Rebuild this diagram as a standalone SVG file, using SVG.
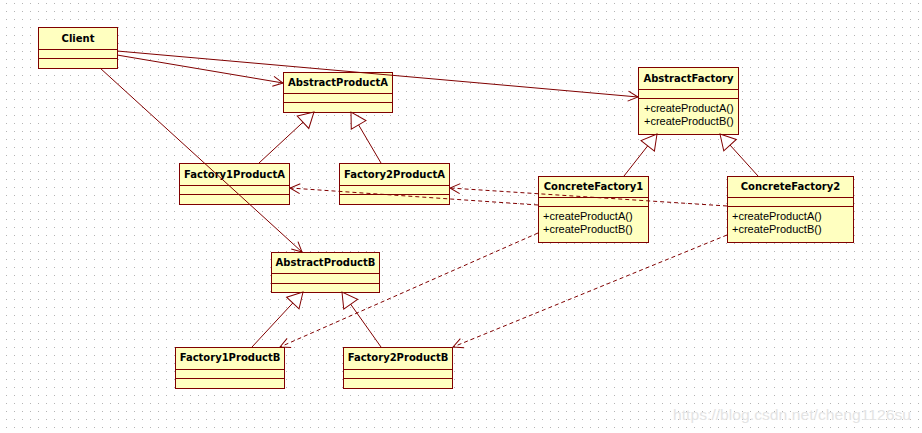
<svg xmlns="http://www.w3.org/2000/svg" width="922" height="433" viewBox="0 0 922 433">
<style>
.box{fill:#ffffc0;stroke:#800000;stroke-width:1}
.div{stroke:#800000;stroke-width:1}
.name{font-family:"DejaVu Sans",sans-serif;font-weight:bold;font-size:10px;fill:#000;text-anchor:middle}
.op{font-family:"Liberation Sans",Arial,sans-serif;font-size:11px;fill:#000}
.assoc{fill:none;stroke:#800000;stroke-width:1;marker-end:url(#open)}
.gen{fill:none;stroke:#800000;stroke-width:1;marker-end:url(#tri)}
.dep{fill:none;stroke:#800000;stroke-width:1;stroke-dasharray:4,3;marker-end:url(#open)}
</style>
<defs>
<pattern id="grid" x="6" y="3" width="8" height="8" patternUnits="userSpaceOnUse">
<rect x="0" y="0" width="1" height="1" fill="#b4b4b4"/>
</pattern>
<marker id="open" markerUnits="userSpaceOnUse" markerWidth="14" markerHeight="14" viewBox="-12 -7 14 14" refX="0" refY="0" orient="auto" overflow="visible">
<path d="M-10,-5 L0,0 L-10,5" fill="none" stroke="#800000" stroke-width="1"/>
</marker>
<marker id="tri" markerUnits="userSpaceOnUse" markerWidth="20" markerHeight="20" viewBox="-17 -10 20 20" refX="0" refY="0" orient="auto" overflow="visible">
<path d="M0,0 L-15,-8.5 L-15,8.5 Z" fill="#ffffff" stroke="#800000" stroke-width="1"/>
</marker>
</defs>
<rect width="922" height="433" fill="#ffffff"/>
<rect width="922" height="433" fill="url(#grid)"/>
<text x="673" y="420" font-family="Liberation Sans,Arial,sans-serif" font-size="15" fill="#e4e4e4" textLength="238" lengthAdjust="spacingAndGlyphs">https://blog.csdn.net/cheng1126su</text>

<g id="Client">
<rect class="box" x="38.5" y="27.5" width="79" height="41"/>
<line class="div" x1="38.5" y1="49.5" x2="117.5" y2="49.5"/>
<line class="div" x1="38.5" y1="58.5" x2="117.5" y2="58.5"/>
<text class="name" x="78" y="42">Client</text>
</g>
<g id="AbstractProductA">
<rect class="box" x="283.5" y="72.5" width="109" height="40"/>
<line class="div" x1="283.5" y1="93.5" x2="392.5" y2="93.5"/>
<line class="div" x1="283.5" y1="102.5" x2="392.5" y2="102.5"/>
<text class="name" x="338" y="86">AbstractProductA</text>
</g>
<g id="Factory1ProductA">
<rect class="box" x="179.5" y="163.5" width="110" height="41"/>
<line class="div" x1="179.5" y1="185.5" x2="289.5" y2="185.5"/>
<line class="div" x1="179.5" y1="194.5" x2="289.5" y2="194.5"/>
<text class="name" x="234.5" y="178">Factory1ProductA</text>
</g>
<g id="Factory2ProductA">
<rect class="box" x="339.5" y="163.5" width="110" height="41"/>
<line class="div" x1="339.5" y1="185.5" x2="449.5" y2="185.5"/>
<line class="div" x1="339.5" y1="194.5" x2="449.5" y2="194.5"/>
<text class="name" x="394.5" y="178">Factory2ProductA</text>
</g>
<g id="AbstractFactory">
<rect class="box" x="638.5" y="67.5" width="100" height="67"/>
<line class="div" x1="638.5" y1="89.5" x2="738.5" y2="89.5"/>
<line class="div" x1="638.5" y1="98.5" x2="738.5" y2="98.5"/>
<text class="name" x="688.5" y="82">AbstractFactory</text>
<text class="op" x="644" y="112">+createProductA()</text>
<text class="op" x="644" y="125">+createProductB()</text>
</g>
<g id="ConcreteFactory1">
<rect class="box" x="538.5" y="176.5" width="110" height="66"/>
<line class="div" x1="538.5" y1="197.5" x2="648.5" y2="197.5"/>
<line class="div" x1="538.5" y1="206.5" x2="648.5" y2="206.5"/>
<text class="name" x="593.5" y="190">ConcreteFactory1</text>
<text class="op" x="543" y="220">+createProductA()</text>
<text class="op" x="543" y="233">+createProductB()</text>
</g>
<g id="ConcreteFactory2">
<rect class="box" x="727.5" y="176.5" width="126" height="66"/>
<line class="div" x1="727.5" y1="197.5" x2="853.5" y2="197.5"/>
<line class="div" x1="727.5" y1="206.5" x2="853.5" y2="206.5"/>
<text class="name" x="790.5" y="190">ConcreteFactory2</text>
<text class="op" x="732" y="220">+createProductA()</text>
<text class="op" x="732" y="233">+createProductB()</text>
</g>
<g id="AbstractProductB">
<rect class="box" x="271.5" y="252.5" width="108" height="40"/>
<line class="div" x1="271.5" y1="273.5" x2="379.5" y2="273.5"/>
<line class="div" x1="271.5" y1="283.5" x2="379.5" y2="283.5"/>
<text class="name" x="325.5" y="266">AbstractProductB</text>
</g>
<g id="Factory1ProductB">
<rect class="box" x="175.5" y="347.5" width="109" height="41"/>
<line class="div" x1="175.5" y1="369.5" x2="284.5" y2="369.5"/>
<line class="div" x1="175.5" y1="378.5" x2="284.5" y2="378.5"/>
<text class="name" x="230" y="361">Factory1ProductB</text>
</g>
<g id="Factory2ProductB">
<rect class="box" x="343.5" y="347.5" width="109" height="41"/>
<line class="div" x1="343.5" y1="369.5" x2="452.5" y2="369.5"/>
<line class="div" x1="343.5" y1="378.5" x2="452.5" y2="378.5"/>
<text class="name" x="398" y="361">Factory2ProductB</text>
</g>

<g id="connectors">
<line class="assoc" x1="117" y1="55" x2="283" y2="83"/>
<line class="assoc" x1="117" y1="51" x2="638" y2="97"/>
<line class="assoc" x1="100" y1="68" x2="302" y2="252"/>
<line class="gen" x1="259" y1="163" x2="314" y2="112"/>
<line class="gen" x1="381" y1="163" x2="351" y2="112"/>
<line class="gen" x1="624" y1="176" x2="657" y2="134"/>
<line class="gen" x1="758" y1="176" x2="720" y2="134"/>
<line class="gen" x1="252" y1="347" x2="303" y2="292"/>
<line class="gen" x1="381" y1="347" x2="342" y2="292"/>
<line class="dep" x1="538" y1="205" x2="290" y2="188"/>
<line class="dep" x1="727" y1="206" x2="450" y2="188"/>
<line class="dep" x1="538" y1="233" x2="280" y2="347"/>
<line class="dep" x1="727" y1="235" x2="453" y2="347"/>
</g>
</svg>
